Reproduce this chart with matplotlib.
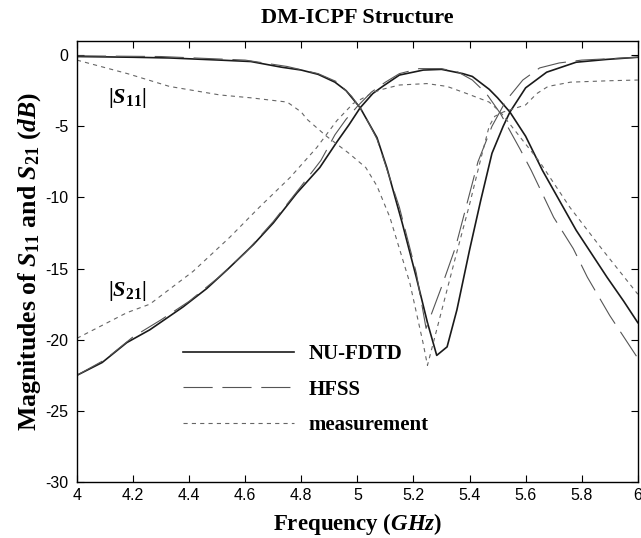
import matplotlib
matplotlib.use("Agg")
import matplotlib.pyplot as plt
import numpy as np

plt.rcParams['axes.unicode_minus'] = False
plt.rcParams['lines.scale_dashes'] = False
plt.rcParams['mathtext.fontset'] = 'custom'
plt.rcParams['mathtext.rm'] = 'Liberation Serif:bold'
plt.rcParams['mathtext.it'] = 'Liberation Serif:italic:bold'
plt.rcParams['mathtext.bf'] = 'Liberation Serif:bold'

# ---- data (GHz, dB) ----
fdtd_s11_f = [4.0, 4.2, 4.33, 4.51, 4.62, 4.73, 4.80, 4.86, 4.92, 4.96, 5.01, 5.07, 5.105, 5.16, 5.21,
              5.25, 5.283, 5.32, 5.355, 5.40, 5.44, 5.48, 5.52, 5.544, 5.60, 5.675, 5.78, 5.89, 6.0]
fdtd_s11 = [-0.1, -0.15, -0.2, -0.35, -0.45, -0.85, -1.05, -1.35, -1.9, -2.5, -3.7, -5.8, -7.9, -11.8, -15.6,
            -18.8, -21.1, -20.5, -17.9, -13.7, -10.2, -6.9, -5.0, -4.0, -2.3, -1.2, -0.5, -0.3, -0.15]

fdtd_s21_f = [4.0, 4.09, 4.178, 4.26, 4.378, 4.463, 4.535, 4.63, 4.70, 4.784, 4.866, 4.927, 4.97, 5.01,
              5.055, 5.09, 5.15, 5.235, 5.30, 5.376, 5.41, 5.47, 5.50, 5.544, 5.60, 5.66, 5.72, 5.78,
              5.89, 5.95, 6.0]
fdtd_s21 = [-22.5, -21.6, -20.2, -19.3, -17.7, -16.4, -15.1, -13.3, -11.8, -9.7, -7.9, -6.1, -4.9, -3.7,
            -2.7, -2.2, -1.4, -1.05, -1.0, -1.3, -1.5, -2.4, -3.0, -4.0, -5.7, -8.1, -10.2, -12.3,
            -15.6, -17.3, -18.8]

hfss_s11_f = [4.0, 4.3, 4.6, 4.75, 4.86, 4.93, 4.98, 5.02, 5.07, 5.15, 5.21, 5.245, 5.30, 5.35, 5.43,
              5.48, 5.53, 5.59, 5.65, 5.72, 5.80, 6.0]
hfss_s11 = [-0.05, -0.1, -0.35, -0.8, -1.3, -1.9, -2.9, -4.0, -5.9, -10.7, -15.3, -19.2, -16.3, -13.5, -7.5,
            -5.0, -3.2, -1.75, -0.9, -0.55, -0.35, -0.15]

hfss_s21_f = [4.0, 4.1, 4.2, 4.3, 4.4, 4.5, 4.6, 4.7, 4.8, 4.87, 4.92, 4.96, 5.0, 5.05, 5.1, 5.15, 5.22,
              5.3, 5.36, 5.41, 5.46, 5.51, 5.58, 5.62, 5.70, 5.77, 5.82, 5.90, 5.97, 6.0]
hfss_s21 = [-22.5, -21.4, -19.8, -18.6, -17.3, -15.7, -13.9, -11.7, -9.2, -7.4, -5.6, -4.5, -3.6, -2.6,
            -1.9, -1.3, -0.95, -0.95, -1.2, -1.75, -2.7, -4.1, -6.6, -8.1, -11.4, -13.6, -15.6, -18.3,
            -20.4, -21.3]

meas_s11_f = [4.0, 4.18, 4.33, 4.51, 4.62, 4.75, 4.80, 4.82, 4.89, 4.97, 5.03, 5.07, 5.116, 5.187, 5.234,
              5.25, 5.30, 5.35, 5.40, 5.44, 5.47, 5.49, 5.52, 5.60, 5.64, 5.68, 5.76, 5.90, 6.0]
meas_s11 = [-0.35, -1.3, -2.2, -2.8, -3.0, -3.3, -4.0, -4.5, -5.7, -6.9, -7.9, -9.2, -11.4, -16.0, -20.2,
            -21.8, -18.0, -14.2, -10.5, -7.3, -5.0, -4.3, -4.0, -3.5, -2.7, -2.2, -1.9, -1.8, -1.75]

meas_s21_f = [4.0, 4.178, 4.26, 4.414, 4.545, 4.65, 4.76, 4.855, 4.927, 4.985, 5.05, 5.08, 5.15, 5.248,
              5.32, 5.39, 5.47, 5.51, 5.57, 5.65, 5.758, 5.875, 5.98, 6.0]
meas_s21 = [-19.9, -18.1, -17.5, -15.2, -12.8, -10.7, -8.6, -6.5, -4.6, -3.4, -2.7, -2.45, -2.1, -2.0,
            -2.2, -2.7, -3.3, -4.0, -5.5, -7.5, -10.7, -13.7, -16.3, -16.8]

legend_labels = ["NU-FDTD", "HFSS", "measurement"]
x_ticks = [4, 4.2, 4.4, 4.6, 4.8, 5, 5.2, 5.4, 5.6, 5.8, 6]
x_ticklabels = ["4", "4.2", "4.4", "4.6", "4.8", "5", "5.2", "5.4", "5.6", "5.8", "6"]
y_ticks = [0, -5, -10, -15, -20, -25, -30]

# ---- figure ----
fig = plt.figure(figsize=(6.41, 5.38), dpi=100)
ax = fig.add_axes([0.120, 0.104, 0.875, 0.820])

solid_kw = dict(color='#1a1a1a', lw=1.2, linestyle='-')
hfss_kw = dict(color='#555555', lw=0.8, linestyle=(0, (21, 7)))
meas_kw = dict(color='#666666', lw=0.8, linestyle=(0, (3, 3)))

l1, = ax.plot(fdtd_s11_f, fdtd_s11, **solid_kw)
ax.plot(fdtd_s21_f, fdtd_s21, **solid_kw)
l2, = ax.plot(hfss_s11_f, hfss_s11, **hfss_kw)
ax.plot(hfss_s21_f, hfss_s21, **hfss_kw)
l3, = ax.plot(meas_s11_f, meas_s11, **meas_kw)
ax.plot(meas_s21_f, meas_s21, **meas_kw)

ax.set_xlim(4, 6)
ax.set_ylim(-30, 1)
ax.set_xticks(x_ticks)
ax.set_xticklabels(x_ticklabels)
ax.set_yticks(y_ticks)
ax.tick_params(direction='in', length=5, width=0.8, top=True, right=True, labelsize=11.5)
for lab in ax.get_xticklabels() + ax.get_yticklabels():
    lab.set_family('Liberation Sans')
ax.tick_params(axis='x', pad=4)
ax.tick_params(axis='y', pad=6)
for s in ax.spines.values():
    s.set_linewidth(1.0)

serif = 'Liberation Serif'
ax.set_title('DM-ICPF Structure', fontsize=16, fontweight='bold', family=serif, pad=13)
ax.set_xlabel('Frequency ($GHz$)', fontsize=16.5, fontweight='bold', family=serif, labelpad=6)
ax.set_ylabel('Magnitudes of $S_{11}$ and $S_{21}$ ($dB$)', fontsize=18.5, fontweight='bold',
              family=serif, labelpad=2)

ax.text(4.18, -3.0, r'$|S_{11}|$', fontsize=16, ha='center', va='center')
ax.text(4.18, -16.6, r'$|S_{21}|$', fontsize=16, ha='center', va='center')

leg = ax.legend([l1, l2, l3], legend_labels, loc='upper left', bbox_to_anchor=(0.19, 0.313),
                frameon=False, handlelength=5.3, handletextpad=0.7, labelspacing=0.75,
                borderpad=0, borderaxespad=0,
                prop=dict(family=serif, weight='bold', size=15))

fig.savefig('out.png', dpi=100)
